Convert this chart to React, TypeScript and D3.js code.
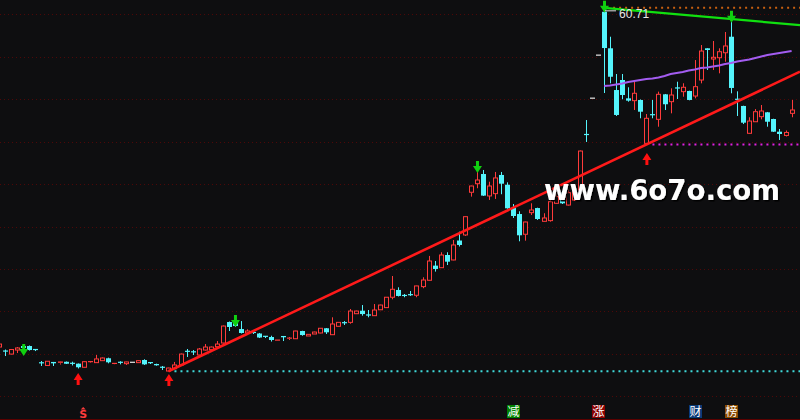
import React, { useEffect } from 'react';
import * as d3 from 'd3';

// ---- Data (prices) ----
const opens = [
  21.13, 20.66, 20.31, 20.78, 21.25, 21.25, 20.84, 19.29, 18.98, 19.39,
  19.23, 19.41, 19.23, 19.19, 18.77, 19.33, 19.31, 19.54, 19.82, 19.11,
  19.35, 19.19, 19.35, 19.31, 19.62, 19.31, 19.15, 18.77, 18.33, 18.60,
  19.04, 20.63, 20.57, 20.20, 20.78, 20.82, 21.17, 21.60, 24.05, 23.93,
  23.23, 22.77, 22.83, 22.71, 22.38, 22.30, 21.83, 22.42, 22.07, 22.10,
  23.00, 22.42, 22.65, 22.77, 23.32, 22.57, 23.55, 23.97, 24.01, 25.02,
  25.37, 24.87, 24.79, 25.48, 25.73, 26.94, 27.79, 27.15, 27.24, 27.17,
  28.18, 28.92, 30.63, 30.39, 31.87, 31.29, 33.56, 34.21, 39.19, 40.19,
  41.32, 38.76, 39.03, 41.21, 40.07, 37.35, 36.65, 34.29, 36.81, 37.35,
  35.80, 35.88, 37.90, 39.14, 37.70, 38.29, 39.46, 45.93, 50.17, 55.19,
  60.25, 55.99, 51.12, 52.29, 50.15, 49.88, 49.96, 44.90, 48.24, 47.70,
  50.62, 49.76, 51.36, 50.93, 51.01, 50.42, 52.29, 55.99, 54.74, 54.89,
  55.47, 57.34, 50.04, 49.26, 46.07, 47.42, 48.01, 48.52, 47.74, 46.26,
  45.82, 48.40,
];
const highs = [
  21.60, 20.84, 20.90, 21.13, 21.37, 21.31, 20.90, 19.50, 19.50, 19.39,
  19.42, 19.44, 19.42, 19.21, 19.50, 19.50, 20.20, 19.91, 19.89, 19.27,
  19.47, 19.42, 19.35, 19.59, 19.70, 19.35, 19.19, 18.92, 18.72, 19.39,
  20.37, 20.90, 20.78, 21.02, 21.48, 21.19, 21.83, 23.64, 24.11, 24.51,
  24.16, 23.20, 22.92, 22.77, 22.42, 22.45, 21.95, 22.42, 22.30, 23.03,
  23.03, 22.65, 22.92, 23.35, 23.35, 24.60, 24.05, 24.16, 25.57, 25.37,
  26.03, 25.45, 26.15, 26.07, 26.97, 29.42, 28.10, 27.32, 27.67, 28.29,
  29.27, 31.76, 31.17, 32.19, 32.19, 33.62, 34.59, 36.39, 39.96, 41.79,
  41.79, 40.42, 41.56, 41.56, 40.35, 37.82, 36.97, 35.76, 37.90, 37.39,
  36.74, 38.29, 39.26, 39.34, 39.54, 39.69, 44.06, 47.62, 50.17, 55.19,
  60.71, 57.34, 52.99, 52.99, 51.44, 52.09, 50.02, 48.32, 49.96, 50.93,
  50.66, 51.32, 52.09, 51.91, 51.04, 54.62, 56.37, 55.99, 56.84, 55.99,
  57.89, 60.14, 50.97, 49.29, 47.94, 48.90, 49.37, 48.56, 47.77, 46.57,
  46.40, 49.96,
];
const lows = [
  21.02, 20.08, 20.26, 20.43, 20.90, 20.72, 20.66, 18.92, 18.92, 18.92,
  19.09, 19.15, 18.98, 18.63, 18.74, 19.27, 19.27, 19.50, 19.23, 19.09,
  19.11, 19.04, 19.35, 19.27, 19.04, 19.15, 18.95, 18.45, 18.30, 18.57,
  19.00, 19.97, 20.20, 20.14, 20.72, 20.78, 21.02, 21.54, 23.00, 23.47,
  22.71, 22.73, 22.65, 22.18, 22.18, 21.77, 21.83, 21.83, 21.95, 22.07,
  22.45, 22.42, 22.65, 22.73, 22.65, 22.53, 23.50, 23.70, 23.85, 24.98,
  24.79, 24.60, 24.75, 25.45, 25.69, 26.70, 27.03, 26.94, 27.09, 26.94,
  27.99, 28.87, 29.93, 30.36, 30.70, 31.25, 32.86, 34.09, 38.68, 39.66,
  38.76, 38.29, 38.41, 38.96, 37.27, 36.19, 33.47, 33.54, 36.54, 35.96,
  35.76, 35.76, 37.82, 37.82, 37.64, 38.17, 39.34, 45.06, 50.17, 55.19,
  50.77, 51.90, 48.09, 50.04, 49.76, 48.79, 47.82, 44.76, 47.82, 46.84,
  48.79, 48.40, 50.07, 50.34, 49.92, 50.15, 51.90, 53.46, 53.46, 53.07,
  54.42, 50.74, 48.09, 47.15, 46.02, 47.39, 47.70, 46.84, 46.23, 45.29,
  45.70, 47.94,
];
const closes = [
  21.48, 20.55, 20.84, 21.02, 21.02, 20.78, 20.72, 19.20, 19.47, 19.23,
  19.39, 19.18, 19.15, 18.77, 19.42, 19.44, 19.74, 19.85, 19.35, 19.23,
  19.21, 19.39, 19.35, 19.54, 19.11, 19.19, 19.00, 18.68, 18.68, 19.04,
  20.31, 20.51, 20.49, 20.90, 21.13, 21.13, 21.48, 23.58, 23.47, 23.58,
  22.77, 23.00, 22.77, 22.24, 22.24, 21.95, 21.95, 22.27, 22.18, 23.00,
  22.53, 22.61, 22.88, 23.32, 22.85, 23.82, 24.01, 23.90, 25.33, 25.33,
  24.98, 24.79, 25.45, 26.03, 26.94, 27.87, 27.09, 27.09, 27.18, 28.26,
  28.95, 31.17, 30.24, 31.87, 31.09, 33.04, 33.04, 36.34, 39.92, 40.62,
  38.80, 39.92, 40.86, 40.19, 37.32, 36.42, 34.17, 35.72, 37.12, 36.07,
  36.19, 38.09, 38.68, 37.90, 39.14, 39.46, 44.00, 45.82, 50.17, 55.19,
  56.02, 52.67, 48.21, 50.54, 49.88, 50.74, 48.59, 47.82, 48.17, 50.62,
  49.46, 50.54, 51.27, 51.44, 49.96, 51.51, 55.67, 55.79, 54.94, 55.59,
  56.26, 51.36, 49.96, 47.31, 47.50, 48.59, 48.67, 47.42, 46.26, 45.99,
  46.17, 48.79,
];

// purple average line, from candle 100 to the last candle
const purpleStart = 100;
const purpleLine = [
  51.59, 51.65, 51.76, 51.88, 52.06, 52.17, 52.29, 52.41, 52.46, 52.58,
  52.76, 52.99, 53.11, 53.22, 53.40, 53.51, 53.69, 53.75, 53.86, 53.98,
  54.16, 54.27, 54.45, 54.56, 54.68, 54.86, 55.03, 55.21, 55.32, 55.44,
  55.56, 55.67,
];

// support trend line through two lows (candle indices)
const supportAnchors = [28, 107];
// resistance (green) line: [index, price] pairs
const resistanceIdx = [100, 131];
const resistanceVal = [60.71, 58.78];

// dotted levels: price, start index, colour
const levelPrices = [18.30, 44.76, 60.71];
const levelStarts = [29, 108, 101.5];
const levelColors = ['#3fd8d8', '#e020e0', '#c86010'];

// horizontal grid levels
const gridLevels = [59.96, 54.94, 50.04, 45.02, 40.12, 35.10, 30.20, 25.30, 20.32, 15.38];

// signals
const buyIdx = [13, 28, 107];
const buyTip = [18.09, 17.98, 43.77];
const sellIdx = [4, 39, 79];
const sellTip = [20.08, 23.47, 41.44];

// bottom tags
const tagText = ['减', '涨', '财', '榜'];
const tagIdx = [85, 99, 115, 121];
const tagFill = ['#008000', '#8a0000', '#0a3a78', '#8a4a00'];
const sIdx = 14;

const peakLabel = '60.71';
const watermark = 'www.6o7o.com';

const RED = '#ff3b3b';
const CYAN = '#54f4fc';
const FLAT = '#e8e8e8';
const BG = '#0e0e10';

export default function App() {
  useEffect(() => {
    document.body.style.margin = '0';
    document.body.style.background = BG;
  }, []);

  const W = 800, H = 420;
  const n = opens.length;
  const x = d3.scaleLinear().domain([0, n - 1]).range([-1, 791.6]);
  const y = d3.scaleLinear().domain([15.3, 61.625]).range([397, 0]);

  const candles = opens.map((o, i) => ({ i, o, h: highs[i], l: lows[i], c: closes[i] }));

  const line = d3.line<[number, number]>().x(d => d[0]).y(d => d[1]);

  const [a0, a1] = supportAnchors;
  const slope = (lows[a1] - lows[a0]) / (a1 - a0);
  const tEnd = x.invert(W);
  const supportPath = line([
    [x(a0), y(lows[a0])],
    [W, y(lows[a0] + slope * (tEnd - a0))],
  ]);

  const rSlope = (resistanceVal[1] - resistanceVal[0]) / (resistanceIdx[1] - resistanceIdx[0]);
  const resistPath = line([
    [x(resistanceIdx[0]), y(resistanceVal[0])],
    [W, y(resistanceVal[0] + rSlope * (tEnd - resistanceIdx[0]))],
  ]);

  const purplePath = line(purpleLine.map((v, k) => [x(purpleStart + k), y(v)] as [number, number]));

  const upArrow = (cx: number, ty: number) =>
    `M${cx},${ty} L${cx + 4.5},${ty + 7} L${cx + 1.5},${ty + 7} L${cx + 1.5},${ty + 12} L${cx - 1.5},${ty + 12} L${cx - 1.5},${ty + 7} L${cx - 4.5},${ty + 7} Z`;
  const downArrow = (cx: number, ty: number) =>
    `M${cx},${ty} L${cx + 4.5},${ty - 7} L${cx + 1.5},${ty - 7} L${cx + 1.5},${ty - 12} L${cx - 1.5},${ty - 12} L${cx - 1.5},${ty - 7} L${cx - 4.5},${ty - 7} Z`;

  const peakI = highs.indexOf(d3.max(highs) as number);

  return (
    <svg width={W} height={H} style={{ position: 'fixed', left: 0, top: 0, display: 'block', background: BG }}>
      <defs>
        <filter id="wmShadow" x="-5%" y="-20%" width="110%" height="140%">
          <feDropShadow dx="1.5" dy="1.5" stdDeviation="0.6" floodColor="#000" floodOpacity="0.95" />
        </filter>
      </defs>
      <rect x={0} y={0} width={W} height={H} fill={BG} />
      {gridLevels.map((g, k) => (
        <line key={k} x1={0} x2={W} y1={Math.round(y(g)) + 0.5} y2={Math.round(y(g)) + 0.5}
          stroke="#4e0808" strokeWidth={1} strokeDasharray="1 3" />
      ))}
      <line x1={0} x2={W} y1={419.5} y2={419.5} stroke="#5c0000" strokeWidth={1} />

      {levelPrices.map((p, k) => (
        <line key={k} x1={x(levelStarts[k])} x2={W} y1={y(p)} y2={y(p)}
          stroke={levelColors[k]} strokeWidth={2} strokeDasharray="2 4" />
      ))}

      {candles.map(d => {
        const cx = Math.round(x(d.i));
        const wx = cx + 0.5;
        const color = d.c > d.o ? RED : d.c < d.o ? CYAN : FLAT;
        const top = y(Math.max(d.o, d.c));
        const bot = y(Math.min(d.o, d.c));
        const yh = y(d.h), yl = y(d.l);
        const bh = bot - top;
        if (d.c === d.o) {
          return (
            <g key={d.i}>
              <line x1={wx} x2={wx} y1={yh} y2={yl} stroke={color} />
              <line x1={cx - 2} x2={cx + 3} y1={top} y2={top} stroke={color} strokeWidth={1.2} />
            </g>
          );
        }
        if (d.c > d.o) {
          return (
            <g key={d.i}>
              <line x1={wx} x2={wx} y1={yh} y2={top} stroke={color} />
              <line x1={wx} x2={wx} y1={bot} y2={yl} stroke={color} />
              {bh < 1.5 ? (
                <rect x={cx - 2} y={top - 0.5} width={5} height={Math.max(bh, 1.2)} fill={color} />
              ) : (
                <rect x={cx - 1.5} y={top} width={4} height={bh} fill={BG} stroke={color} strokeWidth={1} />
              )}
            </g>
          );
        }
        return (
          <g key={d.i}>
            <line x1={wx} x2={wx} y1={yh} y2={yl} stroke={color} />
            <rect x={cx - 2} y={top - (bh < 1.2 ? 0.6 : 0)} width={5} height={Math.max(bh, 1.2)} fill={color} />
          </g>
        );
      })}

      <path d={purplePath || ''} fill="none" stroke="#a35cf0" strokeWidth={2} />
      <path d={resistPath || ''} fill="none" stroke="#10e010" strokeWidth={2.2} />
      <path d={supportPath || ''} fill="none" stroke="#ff1a1a" strokeWidth={2.6} />

      {buyIdx.map((bi, k) => (
        <path key={k} d={upArrow(x(bi) + 0.5, y(buyTip[k]))} fill="#ff1010" />
      ))}
      {sellIdx.map((si, k) => (
        <path key={k} d={downArrow(x(si) + 0.5, y(sellTip[k]))} fill="#10d010" />
      ))}
      {[peakI, 121].map((pi, k) => (
        <path key={k} d={downArrow(Math.round(x(pi)) + 0.5, y(highs[pi]) + (k === 0 ? 5 : 10))} fill="#10d010" />
      ))}

      <line x1={Math.round(x(peakI)) + 1} x2={x(peakI) + 12} y1={y(highs[peakI]) + 3} y2={y(highs[peakI]) + 3} stroke="#e0e0e0" />
      <text x={x(peakI) + 15} y={y(highs[peakI]) + 10} fill="#e8e8e8" fontSize={12}
        fontFamily="'Liberation Sans', Arial, sans-serif">{peakLabel}</text>

      <text x={544} y={200} fontSize={28} fontWeight="bold" fontFamily="'DejaVu Sans', sans-serif"
        fill="#ffffff" filter="url(#wmShadow)" textLength={236} lengthAdjust="spacingAndGlyphs">{watermark}</text>

      <path d={`M${x(sIdx) - 0.5},407 L${x(sIdx) + 2},409.5 L${x(sIdx) - 3},409.5 Z`} fill={RED} />
      <text x={x(sIdx) - 0.5} y={418} textAnchor="middle" fill={RED} fontSize={11} fontWeight="bold"
        fontFamily="'DejaVu Sans', sans-serif">S</text>
      {tagText.map((t, k) => {
        const cx = Math.round(x(tagIdx[k]));
        return (
          <g key={k}>
            <rect x={cx - 6} y={405} width={13} height={13} fill={tagFill[k]} />
            <text x={cx + 0.5} y={416} textAnchor="middle" fill="#fff" fontSize={12}
              fontFamily="'Noto Sans CJK SC', sans-serif">{t}</text>
          </g>
        );
      })}
    </svg>
  );
}
